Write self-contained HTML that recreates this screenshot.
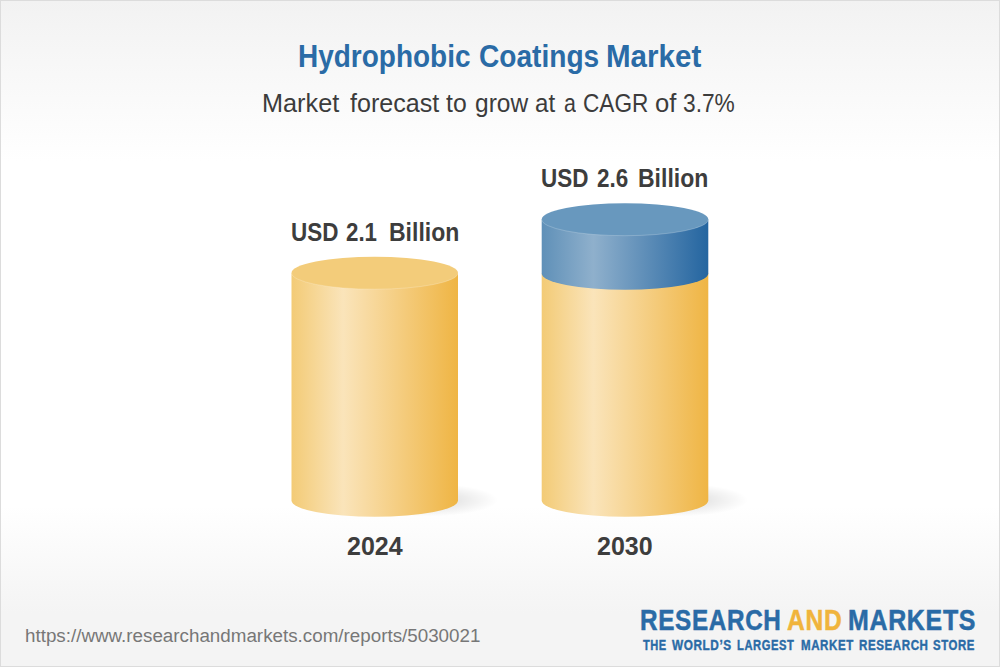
<!DOCTYPE html>
<html><head><meta charset="utf-8">
<style>
html,body{margin:0;padding:0;}
body{width:1000px;height:667px;overflow:hidden;position:relative;font-family:"Liberation Sans",sans-serif;}
#bg{position:absolute;left:0;top:0;width:998px;height:665px;border:1px solid #dcdcdc;
background:linear-gradient(to bottom,#f2f2f2 0%,#ffffff 24%,#ffffff 76%,#f4f4f4 92%,#f4f4f4 100%);}
.w{position:absolute;white-space:nowrap;line-height:1;transform-origin:0 0;}
.t{position:absolute;white-space:nowrap;line-height:1;transform-origin:0 0;}
svg{position:absolute;left:0;top:0;}
</style></head>
<body>
<div id="bg"></div>
<svg width="1000" height="667" viewBox="0 0 1000 667">
<defs>
<linearGradient id="gy" x1="0" x2="1" y1="0" y2="0">
<stop offset="0" stop-color="#f3cb76"/>
<stop offset="0.31" stop-color="#fae4ba"/>
<stop offset="1" stop-color="#efb544"/>
</linearGradient>
<linearGradient id="gb" x1="0" x2="1" y1="0" y2="0">
<stop offset="0" stop-color="#5f90b8"/>
<stop offset="0.31" stop-color="#8fb0cc"/>
<stop offset="1" stop-color="#2465a0"/>
</linearGradient>
<radialGradient id="sh" cx="0.5" cy="0.5" r="0.5">
<stop offset="0" stop-color="#000" stop-opacity="0.16"/>
<stop offset="1" stop-color="#000" stop-opacity="0"/>
</radialGradient>
</defs>
<!-- shadows -->
<ellipse cx="427" cy="500" rx="71" ry="16.5" fill="url(#sh)"/>
<ellipse cx="677" cy="500" rx="71" ry="16.5" fill="url(#sh)"/>
<!-- cylinder 1 -->
<path d="M291.5 273 L291.5 500.6 A83.25 16.2 0 0 0 458 500.6 L458 273 Z" fill="url(#gy)"/>
<ellipse cx="374.75" cy="273" rx="83.25" ry="16.2" fill="#f3cc7a"/>
<path d="M291.5 273 A83.25 16.2 0 0 0 458 273" fill="none" stroke="#fff" stroke-opacity="0.3" stroke-width="0.7"/>
<!-- cylinder 2 -->
<path d="M541.7 273.5 L541.7 500.6 A83.3 16.2 0 0 0 708.3 500.6 L708.3 273.5 Z" fill="url(#gy)"/>
<path d="M541.7 219.5 L541.7 273.5 A83.3 16.2 0 0 0 708.3 273.5 L708.3 219.5 Z" fill="url(#gb)"/>
<ellipse cx="625" cy="219.5" rx="83.3" ry="16.2" fill="#6898be"/>
<path d="M541.7 219.5 A83.3 16.2 0 0 0 708.3 219.5" fill="none" stroke="#fff" stroke-opacity="0.3" stroke-width="0.7"/>
</svg>
<span class="w" style="left:298.05px;top:41px;font-size:31px;font-weight:bold;color:#2a6ba6;transform:scaleX(0.9025);">Hydrophobic</span>
<span class="w" style="left:478.81px;top:41px;font-size:31px;font-weight:bold;color:#2a6ba6;transform:scaleX(0.9063);">Coatings</span>
<span class="w" style="left:605.54px;top:41px;font-size:31px;font-weight:bold;color:#2a6ba6;transform:scaleX(0.9528);">Market</span>
<span class="w" style="left:262.39px;top:91px;font-size:25px;font-weight:normal;color:#3c3c3c;transform:scaleX(1.0108);">Market</span>
<span class="w" style="left:349.83px;top:91px;font-size:25px;font-weight:normal;color:#3c3c3c;transform:scaleX(1.0032);">forecast</span>
<span class="w" style="left:446.00px;top:91px;font-size:25px;font-weight:normal;color:#3c3c3c;transform:scaleX(0.9906);">to</span>
<span class="w" style="left:474.93px;top:91px;font-size:25px;font-weight:normal;color:#3c3c3c;transform:scaleX(0.9804);">grow</span>
<span class="w" style="left:535.12px;top:91px;font-size:25px;font-weight:normal;color:#3c3c3c;transform:scaleX(0.9634);">at</span>
<span class="w" style="left:563.68px;top:91px;font-size:25px;font-weight:normal;color:#3c3c3c;transform:scaleX(0.8540);">a</span>
<span class="w" style="left:583.22px;top:91px;font-size:25px;font-weight:normal;color:#3c3c3c;transform:scaleX(0.9056);">CAGR</span>
<span class="w" style="left:654.76px;top:91px;font-size:25px;font-weight:normal;color:#3c3c3c;transform:scaleX(1.0245);">of</span>
<span class="w" style="left:683.42px;top:91px;font-size:25px;font-weight:normal;color:#3c3c3c;transform:scaleX(0.9096);">3.7%</span>
<span class="w" style="left:291.43px;top:220px;font-size:25px;font-weight:bold;color:#3d3d3d;transform:scaleX(0.8987);">USD</span>
<span class="w" style="left:346.00px;top:220px;font-size:25px;font-weight:bold;color:#3d3d3d;transform:scaleX(0.8913);">2.1</span>
<span class="w" style="left:388.80px;top:220px;font-size:25px;font-weight:bold;color:#3d3d3d;transform:scaleX(0.9200);">Billion</span>
<span class="w" style="left:541.03px;top:166px;font-size:25px;font-weight:bold;color:#3d3d3d;transform:scaleX(0.8987);">USD</span>
<span class="w" style="left:596.59px;top:166px;font-size:25px;font-weight:bold;color:#3d3d3d;transform:scaleX(0.8987);">2.6</span>
<span class="w" style="left:638.40px;top:166px;font-size:25px;font-weight:bold;color:#3d3d3d;transform:scaleX(0.9200);">Billion</span>
<span class="w" style="left:640.32px;top:606px;font-size:29px;font-weight:bold;color:#2a6ba6;transform:scaleX(0.8369);-webkit-text-stroke:0.5px #2a6ba6;letter-spacing:0.8px;">RESEARCH</span>
<span class="w" style="left:787.18px;top:606px;font-size:29px;font-weight:bold;color:#f0b43c;transform:scaleX(0.8485);-webkit-text-stroke:0.5px #f0b43c;letter-spacing:0.8px;">AND</span>
<span class="w" style="left:847.58px;top:606px;font-size:29px;font-weight:bold;color:#2a6ba6;transform:scaleX(0.8602);-webkit-text-stroke:0.5px #2a6ba6;letter-spacing:0.8px;">MARKETS</span>
<span class="w" style="left:642.70px;top:638px;font-size:14px;font-weight:bold;color:#2a6ba6;transform:scaleX(0.7893);-webkit-text-stroke:0.4px #2a6ba6;letter-spacing:0.7px;">THE</span>
<span class="w" style="left:672.00px;top:638px;font-size:14px;font-weight:bold;color:#2a6ba6;transform:scaleX(0.8419);-webkit-text-stroke:0.4px #2a6ba6;letter-spacing:0.7px;">WORLD&rsquo;S</span>
<span class="w" style="left:736.79px;top:638px;font-size:14px;font-weight:bold;color:#2a6ba6;transform:scaleX(0.7996);-webkit-text-stroke:0.4px #2a6ba6;letter-spacing:0.7px;">LARGEST</span>
<span class="w" style="left:800.63px;top:638px;font-size:14px;font-weight:bold;color:#2a6ba6;transform:scaleX(0.8253);-webkit-text-stroke:0.4px #2a6ba6;letter-spacing:0.7px;">MARKET</span>
<span class="w" style="left:858.85px;top:638px;font-size:14px;font-weight:bold;color:#2a6ba6;transform:scaleX(0.8263);-webkit-text-stroke:0.4px #2a6ba6;letter-spacing:0.7px;">RESEARCH</span>
<span class="w" style="left:933.09px;top:638px;font-size:14px;font-weight:bold;color:#2a6ba6;transform:scaleX(0.8156);-webkit-text-stroke:0.4px #2a6ba6;letter-spacing:0.7px;">STORE</span>
<div class="t" id="y1" style="left:347px;top:534px;font-size:25px;font-weight:bold;color:#3d3d3d;">2024</div>
<div class="t" id="y2" style="left:597px;top:534px;font-size:25px;font-weight:bold;color:#3d3d3d;">2030</div>
<div class="t" id="url" style="left:24.8px;top:627px;transform:scaleX(1.044);font-size:18px;color:#777;">https://www.researchandmarkets.com/reports/5030021</div>
</body></html>
